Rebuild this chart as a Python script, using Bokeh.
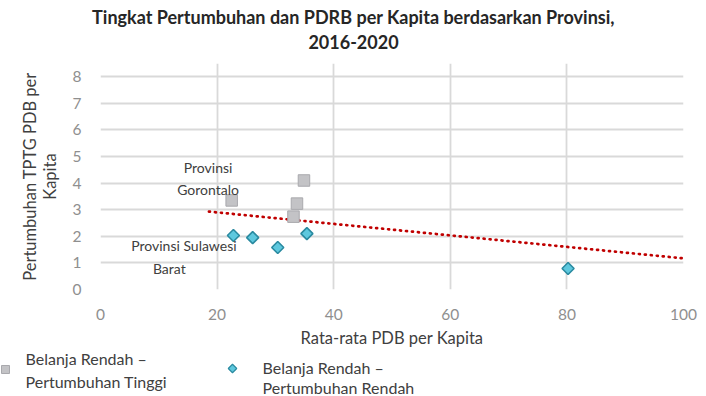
import math
from bokeh.plotting import figure
from bokeh.models import Range1d, FixedTicker
from bokeh.core.properties import value
from bokeh.embed import file_html
from bokeh.resources import INLINE

# Belanja Rendah – Pertumbuhan Tinggi
high_x = [22.5, 34.9, 33.7, 33.1]
high_y = [3.35, 4.1, 3.23, 2.74]

# Belanja Rendah – Pertumbuhan Rendah
low_x = [22.8, 26.1, 30.4, 35.4, 80.2]
low_y = [2.03, 1.95, 1.58, 2.1, 0.79]

# linear trend line endpoints
trend_x = [18.6, 100]
trend_y = [2.93, 1.17]

x_ticks = [0, 20, 40, 60, 80, 100]
y_ticks = [0, 1, 2, 3, 4, 5, 6, 7, 8]

title_lines = ["Tingkat Pertumbuhan dan PDRB per Kapita berdasarkan Provinsi,", "2016-2020"]
legend_labels = [["Belanja Rendah –", "Pertumbuhan Tinggi"],
                 ["Belanja Rendah –", "Pertumbuhan Rendah"]]

FONT = "Lato"
DARK = "#404040"
GRID = "#d9d9d9"
SQ_FILL, SQ_LINE = "#c3c3c6", "#a9a9ad"
DI_FILL, DI_LINE = "#5ec8de", "#2a8aa0"
W = 706


def strip(height):
    """A bare figure whose data units are canvas pixels (y pointing down)."""
    f = figure(width=W, height=height, output_backend="svg", toolbar_location=None,
               x_range=Range1d(0, W), y_range=Range1d(height, 0), min_border=0)
    f.outline_line_color = None
    f.axis.visible = False
    f.grid.visible = False
    return f


# --- title strip ---
head = strip(58)
head.text(x=[353, 353], y=[16, 41], text=title_lines,
          text_font=value(FONT), text_font_size="18px", text_font_style="bold",
          text_color="#262626", text_align="center", text_baseline="middle")

# --- chart ---
p = figure(width=W, height=292, output_backend="svg", toolbar_location=None,
           x_range=Range1d(0, 100), y_range=Range1d(0, 8.5),
           min_border_left=100, min_border_right=23, min_border_top=5, min_border_bottom=61)
p.outline_line_color = None

for ax in (p.xaxis[0], p.yaxis[0]):
    ax.axis_line_color = None
    ax.major_tick_line_color = None
    ax.minor_tick_line_color = None
    ax.major_label_text_font = FONT
    ax.major_label_text_font_size = "15.5px"
    ax.major_label_text_color = "#8f8f8f"
    ax.axis_label_text_font = FONT
    ax.axis_label_text_font_size = "16.5px"
    ax.axis_label_text_font_style = "normal"
    ax.axis_label_text_color = DARK

p.xaxis.ticker = FixedTicker(ticks=x_ticks)
p.yaxis.ticker = FixedTicker(ticks=y_ticks)
p.xaxis.major_label_standoff = 13
p.yaxis.major_label_standoff = 13
p.xaxis.axis_label = "Rata-rata PDB per Kapita"
p.yaxis.axis_label = "Pertumbuhan TPTG PDB per\nKapita"
p.yaxis.axis_label_standoff = 10
p.yaxis.axis_label_text_line_height = 1.0

p.xgrid.grid_line_color = GRID
p.ygrid.grid_line_color = GRID
p.xgrid.grid_line_width = 1.8
p.ygrid.grid_line_width = 1.8

p.line(trend_x, trend_y, line_color="#c00000", line_width=2.7, line_dash="1 5", line_cap="round")

p.scatter(high_x, high_y, marker="square", size=11.5, fill_color=SQ_FILL,
          line_color=SQ_LINE, line_width=1)
p.scatter(low_x, low_y, marker="square", size=8.5, angle=math.pi / 4,
          fill_color=DI_FILL, line_color=DI_LINE, line_width=1.6)

# province callouts
p.text(x=[18.45, 18.45, 14.3, 11.8], y=[4.59, 3.76, 1.65, 0.79],
       text=["Provinsi", "Gorontalo", "Provinsi Sulawesi", "Barat"],
       text_font=value(FONT), text_font_size="14px", text_color=DARK,
       text_align="center", text_baseline="middle")

# --- legend strip ---
leg = strip(46)
leg.scatter([5], [19], marker="square", size=8, fill_color=SQ_FILL, line_color=SQ_LINE)
leg.scatter([232], [18], marker="square", size=6, angle=math.pi / 4,
            fill_color=DI_FILL, line_color=DI_LINE, line_width=1.2)
leg.text(x=[25, 25, 262, 262], y=[8, 31, 17, 37],
         text=legend_labels[0] + legend_labels[1],
         text_font=value(FONT), text_font_size="16px", text_color=DARK,
         text_align="left", text_baseline="middle")

open("out.html", "w").write(file_html([head, p, leg], INLINE))
